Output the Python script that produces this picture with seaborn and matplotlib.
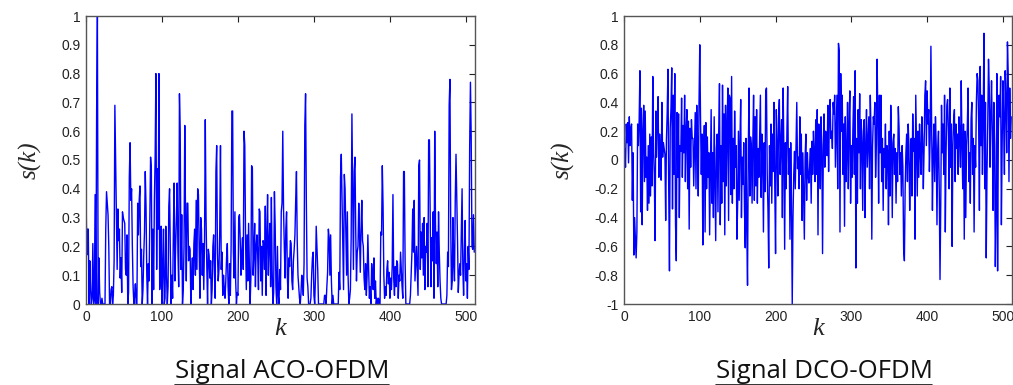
import numpy as np
import pandas as pd
import matplotlib
matplotlib.use("Agg")
import matplotlib.pyplot as plt
import seaborn as sns
from matplotlib.lines import Line2D
from matplotlib.ticker import FuncFormatter, MultipleLocator

# sample index k = 0..511
k = np.arange(512)

# ACO-OFDM signal (clipped at zero)
aco = [
    0.40, 0.17, 0.26, 0.26, 0, 0.15, 0.05, 0, 0.02, 0.21, 0, 0.02, 0.38, 0, 0.67, 1.00,
    0, 0.16, 0.04, 0, 0, 0.02, 0, 0, 0, 0, 0.26, 0.39, 0.35, 0.31, 0.20, 0,
    0, 0.05, 0.06, 0, 0.03, 0.15, 0.69, 0.50, 0.31, 0.12, 0.33, 0.22, 0.26, 0.09, 0.16, 0.04,
    0.32, 0.30, 0.29, 0.28, 0.12, 0.10, 0.24, 0, 0.04, 0.44, 0.56, 0.36, 0.40, 0.20, 0.06, 0,
    0.03, 0.07, 0, 0, 0.35, 0.24, 0.36, 0.41, 0.13, 0.19, 0, 0.05, 0.17, 0.25, 0.46, 0.34,
    0.10, 0, 0.14, 0.08, 0.30, 0.51, 0.47, 0, 0.26, 0.05, 0.36, 0.51, 0.80, 0.12, 0.47, 0.26,
    0.80, 0.05, 0.09, 0.27, 0, 0.12, 0.26, 0, 0.02, 0.27, 0.10, 0, 0.06, 0.34, 0.40, 0.18,
    0, 0.10, 0.02, 0.25, 0.42, 0.08, 0.20, 0.30, 0.42, 0.18, 0.06, 0.73, 0.60, 0.12, 0.31, 0,
    0.05, 0.20, 0.62, 0.30, 0.08, 0.35, 0.35, 0.15, 0.20, 0.19, 0, 0.10, 0.16, 0.05, 0.21, 0.26,
    0.10, 0.36, 0.12, 0.40, 0.38, 0.18, 0.02, 0.30, 0.26, 0.10, 0.21, 0.05, 0.22, 0.64, 0.30, 0.13,
    0, 0.19, 0.17, 0.09, 0.15, 0, 0.05, 0.20, 0.24, 0.11, 0.02, 0.46, 0.55, 0.18, 0.08, 0.12,
    0.25, 0.55, 0.12, 0.18, 0.03, 0.10, 0.05, 0.02, 0.08, 0.16, 0.21, 0.06, 0, 0.14, 0.03, 0.20,
    0.67, 0.67, 0.18, 0.09, 0.32, 0.08, 0, 0.04, 0.03, 0.30, 0.31, 0.22, 0.10, 0.18, 0.23, 0.12,
    0.60, 0.55, 0.23, 0.05, 0.24, 0.08, 0.28, 0.14, 0, 0.09, 0.48, 0.47, 0.10, 0.18, 0.28, 0.06,
    0.20, 0.24, 0.17, 0.05, 0.33, 0.32, 0.08, 0.20, 0.03, 0.22, 0.21, 0.12, 0.34, 0.03, 0.23, 0.38,
    0.10, 0.21, 0.28, 0.06, 0.37, 0.12, 0, 0.04, 0.39, 0.27, 0.06, 0, 0.20, 0.03, 0, 0.12,
    0.05, 0.32, 0.35, 0.60, 0.33, 0.20, 0.09, 0.26, 0.32, 0.10, 0.02, 0.16, 0.13, 0.22, 0.21, 0.08,
    0.05, 0.15, 0.19, 0.24, 0.36, 0.46, 0.22, 0.10, 0.06, 0.02, 0, 0.04, 0.10, 0.08, 0.03, 0.14,
    0.62, 0.73, 0.36, 0.09, 0.06, 0, 0, 0, 0.02, 0.10, 0.16, 0.18, 0.03, 0, 0.09, 0.27,
    0.20, 0.12, 0, 0, 0, 0, 0, 0, 0, 0, 0.03, 0.03, 0, 0.06, 0.11, 0.26,
    0.23, 0.10, 0.24, 0.08, 0, 0.03, 0, 0, 0, 0, 0, 0, 0, 0.11, 0.05, 0.44,
    0.52, 0.36, 0.22, 0.05, 0.45, 0.40, 0.26, 0.10, 0.32, 0.09, 0, 0.02, 0.05, 0.23, 0.66, 0.38,
    0.12, 0.46, 0.51, 0.26, 0.08, 0.18, 0.20, 0.35, 0.24, 0.11, 0.26, 0.36, 0.22, 0.20, 0.09, 0.05,
    0.14, 0.03, 0.10, 0.24, 0.12, 0.02, 0.06, 0, 0.14, 0.10, 0.05, 0.16, 0.02, 0.08, 0, 0.02,
    0, 0.02, 0, 0, 0.25, 0.24, 0.48, 0.34, 0.10, 0.02, 0.06, 0.03, 0.12, 0.15, 0.07, 0.11,
    0.02, 0.09, 0.05, 0.13, 0.38, 0.09, 0.03, 0.13, 0.06, 0.15, 0.14, 0.02, 0.10, 0.08, 0.18, 0.12,
    0.06, 0.02, 0.46, 0.46, 0.15, 0, 0, 0, 0, 0, 0, 0.03, 0.10, 0.18, 0.33, 0.18,
    0.36, 0.08, 0.14, 0.20, 0.11, 0.03, 0.48, 0.50, 0.12, 0.25, 0.16, 0.28, 0.10, 0.30, 0.05, 0.20,
    0.18, 0.28, 0.06, 0.57, 0.57, 0.32, 0.06, 0.23, 0.15, 0.32, 0.02, 0.60, 0.28, 0.14, 0.25, 0.06,
    0.32, 0.18, 0.08, 0.02, 0, 0, 0, 0, 0, 0, 0, 0.03, 0.18, 0.13, 0.69, 0.78,
    0.29, 0.05, 0.08, 0.30, 0.14, 0.08, 0.36, 0.52, 0.38, 0.22, 0.04, 0.10, 0.14, 0.10, 0.25, 0.40,
    0.12, 0.03, 0.18, 0.29, 0.08, 0.14, 0.02, 0.20, 0.12, 0.55, 0.77, 0.58, 0.20, 0.19, 0.31, 0.18,
]

# DCO-OFDM signal (bipolar)
dco = [
    -0.15, 0.08, -0.05, 0.25, 0.12, 0.26, -0.02, 0.30, 0.10, 0.22, 0.25, -0.28, 0.05, -0.66, -0.40, -0.55,
    -0.68, -0.50, 0.25, 0.10, 0.28, 0.62, -0.36, 0.36, -0.45, 0.20, 0.38, -0.15, 0.34, -0.12, 0.02, -0.35,
    0.10, -0.30, 0.18, -0.25, 0.16, -0.18, 0.58, 0.05, -0.10, -0.56, 0.34, 0.02, 0.30, 0.44, -0.12, 0.18,
    0.05, -0.14, 0.40, 0.02, 0.12, 0.08, 0.04, -0.42, 0.14, 0.33, 0.63, -0.20, -0.77, 0.22, 0.36, 0.64,
    -0.34, 0.45, -0.10, 0.60, -0.45, -0.70, 0.33, -0.12, 0.32, -0.40, 0.10, 0.06, 0.43, -0.12, 0.24, 0.05,
    0.45, -0.15, 0.20, 0.35, -0.20, 0.27, -0.48, 0.22, -0.05, 0.28, 0.15, 0.15, -0.18, 0.08, 0.33, -0.20,
    0.38, 0.10, -0.25, 0.40, 0.80, 0.28, -0.10, 0.18, -0.59, 0.05, 0.24, -0.50, 0.26, -0.20, 0.16, -0.12,
    0.05, -0.52, -0.10, 0.35, -0.30, 0.05, -0.40, 0.30, -0.16, -0.56, 0.08, 0.18, -0.36, 0.20, 0.53, -0.45,
    0.10, -0.30, 0.52, -0.15, 0.32, -0.52, 0.38, -0.18, 0.20, 0.50, -0.42, 0.45, 0.43, -0.24, 0.58, -0.30,
    0.15, -0.20, 0.34, -0.05, 0.10, -0.55, -0.30, 0.20, -0.28, 0.12, 0.42, -0.40, 0.02, -0.17, 0.12, -0.35,
    -0.61, 0.15, -0.48, -0.87, 0.06, 0.50, -0.25, 0.16, 0.10, -0.30, 0.12, 0.45, -0.28, 0.30, -0.18, 0.35,
    -0.30, 0.08, -0.12, 0.15, 0.45, -0.26, 0.18, 0.03, -0.50, 0.12, -0.22, 0.48, 0.50, -0.10, -0.35, -0.75,
    0.10, -0.18, 0.25, -0.30, 0.18, -0.08, 0.40, -0.20, -0.65, 0.35, 0.10, -0.25, 0.30, 0.42, -0.10, 0.12,
    0.28, -0.40, 0.50, 0.05, -0.62, 0.12, -0.20, 0.20, 0.51, -0.10, 0.08, -0.55, 0.12, -0.30, -1.00, -0.40,
    -0.10, 0.06, -0.20, 0.12, 0.40, -0.06, 0.02, -0.20, 0.30, -0.10, 0.18, -0.42, 0.05, -0.26, -0.55, 0.02,
    0.18, -0.28, 0.05, -0.10, -0.16, -0.05, 0.08, -0.30, 0.13, -0.10, 0.20, 0.05, -0.15, 0.28, -0.10, 0.35,
    -0.52, 0.25, 0.10, -0.20, 0.30, 0.10, -0.65, 0.05, 0.32, -0.05, 0.20, 0.18, 0.03, 0.38, -0.08, 0.30,
    0.42, 0.15, 0.20, 0.08, 0.40, 0.32, 0.45, -0.05, 0.20, 0.45, -0.20, 0.81, 0.76, -0.50, 0.60, 0.20,
    0.45, -0.10, 0.25, -0.46, 0.30, -0.15, 0.05, 0.40, -0.20, 0.25, 0.48, -0.30, 0.10, -0.12, 0.20, 0.44,
    -0.10, 0.62, -0.75, 0.15, -0.30, 0.35, 0.05, 0.46, -0.20, 0.28, 0.12, -0.35, 0.20, 0.28, -0.40, 0.10,
    0.35, -0.05, 0.12, 0.30, -0.20, 0.45, 0.18, -0.55, 0.10, 0.30, 0.25, 0.40, -0.12, 0.10, 0.70, 0.28,
    -0.30, 0.45, 0.05, 0.45, -0.15, 0.15, -0.35, 0.08, -0.05, 0.25, -0.20, 0.10, 0.05, -0.45, 0.20, -0.25,
    0.38, 0.10, -0.40, 0.12, 0.18, -0.10, 0.08, -0.30, 0.05, -0.15, 0.37, 0.22, -0.10, 0.05, -0.25, 0.10,
    -0.05, -0.62, -0.70, -0.20, 0.05, 0.18, -0.15, 0.25, 0.10, -0.35, -0.05, 0.15, -0.25, 0.32, 0.06, 0.15,
    -0.55, 0.45, 0.10, -0.25, 0.20, -0.12, 0.25, 0.05, -0.10, 0.30, 0.15, -0.20, 0.08, 0.45, 0.55, 0.10,
    0.48, 0.25, 0.35, -0.08, 0.15, 0.79, 0.20, -0.35, 0.05, 0.25, -0.15, 0.30, 0.10, -0.45, 0.08, 0.20,
    -0.20, -0.83, -0.30, 0.38, 0.05, 0.25, -0.10, 0.45, -0.50, 0.05, 0.38, 0.42, 0.20, -0.20, 0.50, -0.05,
    0.25, -0.60, 0.10, 0.28, 0.35, -0.15, 0.25, 0.08, 0.18, -0.10, 0.30, 0.20, -0.05, 0.55, 0.10, -0.20,
    0.25, -0.55, 0.20, -0.40, 0.10, 0.22, 0.50, -0.15, 0.05, -0.30, 0.28, 0.40, -0.10, 0.15, -0.50, 0.10,
    -0.05, 0.40, 0.60, 0.55, 0.25, -0.35, 0.65, 0.10, 0.45, -0.10, 0.30, 0.88, -0.20, 0.40, -0.68, -0.10,
    0.25, 0.70, 0.50, -0.05, 0.30, 0.55, 0.20, -0.35, 0.40, 0.10, -0.74, -0.35, 0.60, -0.77, 0.20, 0.45,
    0.30, 0.58, -0.45, 0.10, 0.55, 0.25, -0.10, 0.62, 0.40, 0.05, 0.82, 0.60, -0.15, 0.50, 0.15, 0.30,
]

titles = ["Signal ACO-OFDM", "Signal DCO-OFDM"]

df = pd.DataFrame({"k": k, "aco": aco, "dco": dco})

sns.set_style("white")
plt.rcParams["font.family"] = ["Liberation Sans", "DejaVu Sans"]

fig = plt.figure(figsize=(10.13, 3.85), dpi=100)
ax1 = fig.add_axes([86 / 1013, 81 / 385, 389 / 1013, 288 / 385])
ax2 = fig.add_axes([624 / 1013, 81 / 385, 388 / 1013, 288 / 385])

sns.lineplot(data=df, x="k", y="aco", ax=ax1, color="#0000ff", lw=1.0)
sns.lineplot(data=df, x="k", y="dco", ax=ax2, color="#0000ff", lw=1.0)

ax1.set_ylim(0, 1)
ax1.yaxis.set_major_locator(MultipleLocator(0.1))
ax2.set_ylim(-1, 1)
ax2.yaxis.set_major_locator(MultipleLocator(0.2))

fmt = FuncFormatter(lambda v, p: "%g" % round(v, 2))
for ax in (ax1, ax2):
    ax.set_xlim(0, 512)
    ax.xaxis.set_major_locator(MultipleLocator(100))
    ax.yaxis.set_major_formatter(fmt)
    ax.tick_params(direction="in", length=4, width=0.8, top=True, right=True,
                   labelsize=10, colors="#222222", pad=4)
    for sp in ax.spines.values():
        sp.set_color("#555555")
        sp.set_linewidth(1.0)
    ax.set_xlabel("k", fontfamily="Liberation Serif", fontstyle="italic",
                  fontsize=19, labelpad=-4)
    ax.set_ylabel("s(k)", fontfamily="Liberation Serif", fontstyle="italic",
                  fontsize=18, labelpad=14)

# underlined captions under each panel
caps = []
for x, t in zip([282, 824], titles):
    caps.append(fig.text(x / 1013, 1 - 371 / 385, t, ha="center", va="center",
                         fontsize=18.5, fontfamily="Open Sans", color="#111111"))
fig.canvas.draw()
r = fig.canvas.get_renderer()
for c in caps:
    bb = c.get_window_extent(r)
    y = bb.y0 - 1
    fig.add_artist(Line2D([bb.x0 / fig.bbox.width, bb.x1 / fig.bbox.width],
                          [y / fig.bbox.height, y / fig.bbox.height],
                          transform=fig.transFigure, color="#111111", lw=1.2))

fig.savefig("out.png", dpi=100)
